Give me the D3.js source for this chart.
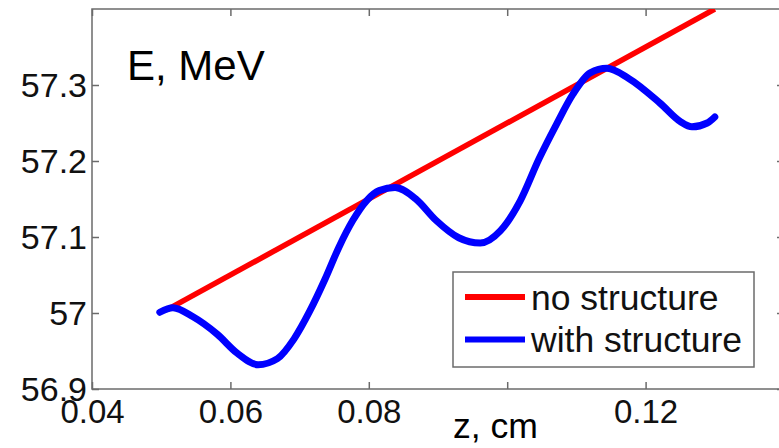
<!DOCTYPE html>
<html>
<head>
<meta charset="utf-8">
<script src="https://cdn.jsdelivr.net/npm/d3@7"></script>
<style>
  body { margin: 0; background: #fff; }
  svg { display: block; font-family: "Liberation Sans", Arial, sans-serif; }
</style>
</head>
<body>
<svg id="svg"></svg>
<script>
// chart values
var zTicks = [0.04, 0.06, 0.08, 0.1, 0.12];
var zTickLabels = ["0.04", "0.06", "0.08", "", "0.12"];
var eTicks = [56.9, 57, 57.1, 57.2, 57.3];
var eTickLabels = ["56.9", "57", "57.1", "57.2", "57.3"];

var noStructZ = [0.051, 0.13];
var noStructE = [57.005, 57.4];

var withStructZ = [0.0498, 0.0517, 0.0546, 0.0581, 0.0610, 0.0640, 0.0668, 0.0692, 0.0715, 0.0737,
                   0.0757, 0.0777, 0.0797, 0.0815, 0.0838, 0.0868, 0.0897, 0.0930, 0.0961, 0.0990,
                   0.1019, 0.1046, 0.1071, 0.1095, 0.1120, 0.1144, 0.1175, 0.1221, 0.1250, 0.1267,
                   0.1289, 0.1300];
var withStructE = [57.001, 57.007, 56.995, 56.972, 56.947, 56.932, 56.940, 56.966, 57.003, 57.045,
                   57.087, 57.122, 57.148, 57.161, 57.165, 57.150, 57.122, 57.099, 57.092, 57.108,
                   57.148, 57.203, 57.248, 57.288, 57.316, 57.322, 57.309, 57.276, 57.252, 57.245,
                   57.250, 57.258];

var legendNames = ["no structure", "with structure"];
var legendColors = ["#ff0000", "#0000ff"];

var width = 779, height = 448;
var padL = 92, padT = 9, padR = 784, padB = 389;

var svg = d3.select("#svg").attr("width", width).attr("height", height);

var x = d3.scaleLinear().domain([0.04, 0.14]).range([padL, padR]);
var y = d3.scaleLinear().domain([56.9, 57.4]).range([padB, padT]);

var axisColor = "#6b6b6b";

// frame
svg.append("rect")
  .attr("x", padL).attr("y", padT)
  .attr("width", padR - padL).attr("height", padB - padT)
  .attr("fill", "none").attr("stroke", axisColor).attr("stroke-width", 1.5);

// axes, ticks drawn inward
function styleAxis(g) {
  g.select(".domain").remove();
  g.selectAll(".tick line").attr("stroke", axisColor).attr("stroke-width", 1.5);
  g.selectAll(".tick text").attr("fill", "#111");
}

svg.append("g")
  .attr("transform", "translate(0," + padB + ")")
  .call(d3.axisBottom(x).tickValues(zTicks).tickSizeInner(-7).tickSizeOuter(0)
    .tickFormat(function(d, i){ return zTickLabels[i]; }))
  .call(styleAxis)
  .call(function(g){
    g.selectAll(".tick text").attr("y", 34).attr("dy", null)
      .attr("font-size", 33).attr("font-family", "Liberation Sans, Arial, sans-serif");
  });

svg.append("g")
  .attr("transform", "translate(0," + padT + ")")
  .call(d3.axisTop(x).tickValues(zTicks).tickSizeInner(-7).tickSizeOuter(0).tickFormat(""))
  .call(styleAxis);

svg.append("g")
  .attr("transform", "translate(" + padL + ",0)")
  .call(d3.axisLeft(y).tickValues(eTicks).tickSizeInner(-7).tickSizeOuter(0)
    .tickFormat(function(d, i){ return eTickLabels[i]; }))
  .call(styleAxis)
  .call(function(g){
    g.selectAll(".tick text").attr("x", -5).attr("dy", "0.35em")
      .attr("font-size", 34).attr("font-family", "Liberation Sans, Arial, sans-serif");
  });

svg.append("g")
  .attr("transform", "translate(" + padR + ",0)")
  .call(d3.axisRight(y).tickValues(eTicks).tickSizeInner(-7).tickSizeOuter(0).tickFormat(""))
  .call(styleAxis);

// clip for the curves
svg.append("clipPath").attr("id", "plotclip")
  .append("rect").attr("x", padL).attr("y", padT)
  .attr("width", padR - padL).attr("height", padB - padT);

var line = d3.line()
  .x(function(d){ return x(d[0]); })
  .y(function(d){ return y(d[1]); });

var redData = noStructZ.map(function(z, i){ return [z, noStructE[i]]; });
var blueData = withStructZ.map(function(z, i){ return [z, withStructE[i]]; });

var plot = svg.append("g").attr("clip-path", "url(#plotclip)");

plot.append("path")
  .datum(redData)
  .attr("d", line)
  .attr("fill", "none").attr("stroke", legendColors[0]).attr("stroke-width", 5.5);

plot.append("path")
  .datum(blueData)
  .attr("d", line.curve(d3.curveMonotoneX))
  .attr("fill", "none").attr("stroke", legendColors[1]).attr("stroke-width", 7)
  .attr("stroke-linecap", "round").attr("stroke-linejoin", "round");

// labels
svg.append("text")
  .attr("x", 127).attr("y", 80)
  .attr("font-size", 42).attr("fill", "#000")
  .text("E, MeV");

svg.append("text")
  .attr("x", 453).attr("y", 438)
  .attr("font-size", 35).attr("fill", "#000")
  .attr("textLength", 85).attr("lengthAdjust", "spacingAndGlyphs")
  .text("z, cm");

// legend
var lg = svg.append("g");
lg.append("rect")
  .attr("x", 453).attr("y", 272).attr("width", 301).attr("height", 95)
  .attr("fill", "#fff").attr("stroke", axisColor).attr("stroke-width", 1.5);

var rows = lg.selectAll("g.row").data(legendNames).enter().append("g").attr("class", "row")
  .attr("transform", function(d, i){ return "translate(0," + (297 + i * 42.5) + ")"; });

rows.append("line")
  .attr("x1", 465).attr("x2", 525).attr("y1", 0).attr("y2", 0)
  .attr("stroke", function(d, i){ return legendColors[i]; })
  .attr("stroke-width", 6);

rows.append("text")
  .attr("x", 531).attr("y", 12.5)
  .attr("font-size", 35.5).attr("fill", "#111")
  .text(function(d){ return d; });
</script>
</body>
</html>
